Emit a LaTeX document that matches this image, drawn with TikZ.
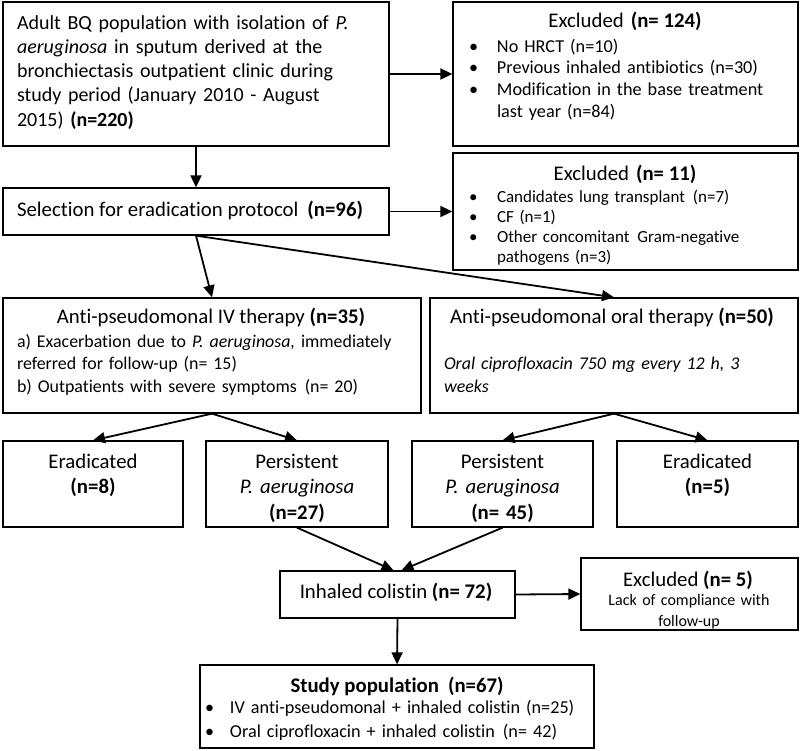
\documentclass[tikz,border=0pt]{standalone}
\usepackage{fontspec}
\setmainfont{Carlito}[Ligatures={NoCommon}]
\usetikzlibrary{arrows.meta}
\newcommand\mybul{\makebox[28pt][l]{\textbullet}}
\newcommand\mybulS{\makebox[25pt][l]{\textbullet}}
\begin{document}
\begin{tikzpicture}[x=1pt,y=-1pt,
  box/.style={draw=black, line width=1.3pt, inner sep=0pt},
  arr/.style={line width=1.8pt, -{Triangle[length=12pt,width=11pt]}},
  txt/.style={inner sep=0pt, outer sep=0pt},
  fM/.style={font=\fontsize{20}{24.3}\selectfont},
  fT/.style={font=\fontsize{20.8}{24}\selectfont},
  fI/.style={font=\fontsize{18.2}{21.8}\selectfont},
  fS/.style={font=\fontsize{17}{20}\selectfont},
  fR/.style={font=\fontsize{20.8}{25.5}\selectfont},
]
\useasboundingbox (0,0) rectangle (800,750);

% boxes
\node[box, minimum width=386pt, minimum height=144pt] (b1) at (196,74) {};
\node[box, minimum width=345pt, minimum height=144pt] (ex1) at (625.5,74) {};
\node[box, minimum width=386pt, minimum height=47pt] (b2) at (196,211.5) {};
\node[box, minimum width=345pt, minimum height=117pt] (ex2) at (625.5,211.5) {};
\node[box, minimum width=418pt, minimum height=115pt] (iv) at (212,355.5) {};
\node[box, minimum width=368pt, minimum height=115pt] (oral) at (614,355.5) {};
\node[box, minimum width=180pt, minimum height=86pt] (er8) at (93,484) {};
\node[box, minimum width=182pt, minimum height=86pt] (p27) at (297,484) {};
\node[box, minimum width=181pt, minimum height=86pt] (p45) at (502.5,484) {};
\node[box, minimum width=181pt, minimum height=86pt] (er5) at (707.5,484) {};
\node[box, minimum width=235pt, minimum height=47pt] (inh) at (397.5,594.5) {};
\node[box, minimum width=217pt, minimum height=72pt] (ex3) at (689.5,594) {};
\node[box, minimum width=394pt, minimum height=83pt] (st) at (397,706.5) {};

% texts
\node[txt, fM, text width=400pt, align=left, anchor=base west] (t1) at (17,29)
 {Adult BQ population with isolation of \textit{P.}\\
  \textit{aeruginosa} in sputum derived at the\\
  bronchiectasis outpatient clinic during\\
  study period (January 2010 - August\\
  2015) \textbf{(n=220)}};

\node[txt, fT, anchor=base] (tex1a) at (625,27) {Excluded\hspace{7pt}\textbf{(n= 124)}};
\node[txt, fI, text width=400pt, align=left, anchor=base west] (tex1b) at (469,52)
 {\mybul No HRCT (n=10)\\
  \mybul Previous inhaled antibiotics (n=30)\\
  \mybul Modification in the base treatment\\
  \hspace*{28pt}last year (n=84)};

\node[txt, fT, anchor=base west] (t2) at (17,216) {Selection for eradication protocol\hspace{9pt}\textbf{(n=96)}};

\node[txt, fT, anchor=base] (tex2a) at (625,180) {Excluded\hspace{7pt}\textbf{(n= 11)}};
\node[txt, fS, text width=400pt, align=left, anchor=base west] (tex2b) at (469,202)
 {\mybul Candidates lung transplant\hspace{8pt}(n=7)\\
  \mybul CF (n=1)\\
  \mybul Other concomitant\hspace{8pt}Gram-negative\\
  \hspace*{28pt}pathogens (n=3)};

\node[txt, fT, anchor=base] (tiva) at (211,323) {Anti-pseudomonal IV therapy \textbf{(n=35)}};
\node[txt, text width=410pt, align=left, anchor=base west, font=\fontsize{17.9}{22.5}\selectfont] (tivb) at (17,347)
 {a) Exacerbation due to \textit{P. aeruginosa,} immediately\\
  referred for follow-up (n= 15)\\
  b) Outpatients with severe symptoms\hspace{8pt}(n= 20)};

\node[txt, fT, anchor=base] (tora) at (612,323) {Anti-pseudomonal oral therapy \textbf{(n=50)}};
\node[txt, text width=350pt, align=left, anchor=base west, font=\fontsize{17.9}{23}\selectfont] (torb) at (444,369)
 {\textit{Oral ciprofloxacin 750 mg every 12 h, 3}\\
  \textit{weeks}};

\node[txt, fR, text width=175pt, align=center, anchor=base] (te8) at (93,468) {Eradicated\\\textbf{(n=8)}};
\node[txt, fR, text width=175pt, align=center, anchor=base] (tp27) at (297,468) {Persistent\\\textit{P. aeruginosa}\\\textbf{(n=27)}};
\node[txt, fR, text width=175pt, align=center, anchor=base] (tp45) at (502.5,468) {Persistent\\\textit{P. aeruginosa}\\\textbf{(n= 45)}};
\node[txt, fR, text width=175pt, align=center, anchor=base] (te5) at (707.5,468) {Eradicated\\\textbf{(n=5)}};

\node[txt, fT, anchor=base] (tinh) at (396,598) {Inhaled colistin \textbf{(n= 72)}};

\node[txt, fT, anchor=base] (tex3a) at (688,586) {Excluded \textbf{(n= 5)}};
\node[txt, text width=210pt, align=center, anchor=base, font=\fontsize{16}{21}\selectfont] (tex3b) at (689,605)
 {Lack of compliance with\\follow-up};

\node[txt, fT, anchor=base] (tsta) at (397,692) {\textbf{Study population\hspace{9pt}(n=67)}};
\node[txt, text width=380pt, align=left, anchor=base west, font=\fontsize{18.2}{24}\selectfont] (tstb) at (205,713)
 {\mybulS IV anti-pseudomonal + inhaled colistin (n=25)\\
  \mybulS Oral ciprofloxacin + inhaled colistin\hspace{8pt}(n= 42)};

% arrows
\draw[arr] (b1.south) -- (b2.north);
\draw[arr] (b1.east) -- (ex1.west);
\draw[arr] (b2.east) -- (ex2.west);
\draw[arr] (b2.south) -- (iv.north);
\draw[arr] (b2.south) -- (oral.north);
\draw[arr] (iv.south) -- (er8.north);
\draw[arr] (iv.south) -- (p27.north);
\draw[arr] (oral.south) -- (p45.north);
\draw[arr] (oral.south) -- (er5.north);
\draw[arr] (p27.south) -- ([xshift=-4pt]inh.north);
\draw[arr] (p45.south) -- ([xshift=4pt]inh.north);
\draw[arr] (inh.east) -- (ex3.west);
\draw[arr] (inh.south) -- (st.north);
\end{tikzpicture}
\end{document}
